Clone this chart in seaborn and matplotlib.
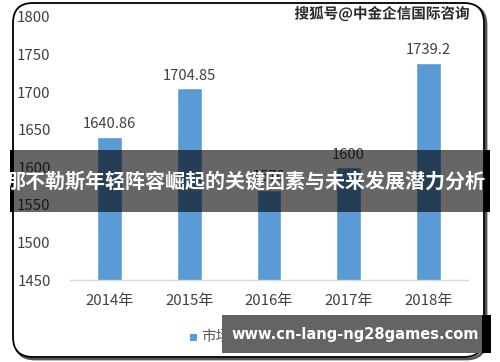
import matplotlib
matplotlib.use("Agg")
import matplotlib.pyplot as plt
import matplotlib.patheffects as pe
from matplotlib.patches import FancyBboxPatch, Rectangle
import seaborn as sns
import pandas as pd

years = ["2014年", "2015年", "2016年", "2017年", "2018年"]
values = [1640.86, 1704.85, 1570, 1600, 1739.2]
value_labels = ["1640.86", "1704.85", "1570", "1600", "1739.2"]
yticks = [1450, 1500, 1550, 1600, 1650, 1700, 1750, 1800]
legend_label = "市场规模（亿元）"
title_text = "那不勒斯年轻阵容崛起的关键因素与未来发展潜力分析"
watermark_top = "搜狐号@中金企信国际咨询"
watermark_bottom = "www.cn-lang-ng28games.com"

sns.set_theme(style="white")
plt.rcParams["font.family"] = ["Noto Sans CJK SC", "DejaVu Sans"]

W, H = 500, 362
fig = plt.figure(figsize=(W / 100, H / 100), dpi=100)
fig.patch.set_facecolor("white")

# rounded frame with shadow (inches coords)
shadow = FancyBboxPatch((0.15, 0.03), 4.71, 3.54,
                        boxstyle="round,pad=0,rounding_size=0.2",
                        transform=fig.dpi_scale_trans, facecolor="none",
                        edgecolor="#555555", linewidth=2.0, zorder=-3)
fig.patches.append(shadow)
frame = FancyBboxPatch((0.13, 0.05), 4.71, 3.54,
                       boxstyle="round,pad=0,rounding_size=0.2",
                       transform=fig.dpi_scale_trans, facecolor="white",
                       edgecolor="black", linewidth=1.3, zorder=-2)
fig.patches.append(frame)

ax = fig.add_axes([70 / W, (H - 280) / H, 398 / W, (280 - 17) / H])
ax.set_zorder(1)
ax.set_facecolor("none")
df = pd.DataFrame({"year": years, "value": values})
sns.barplot(data=df, x="year", y="value", color="#5B9BD5", width=0.31,
            saturation=1, ax=ax, zorder=2)
ax.set_ylim(1450, 1800)
ax.set_xlim(-0.5, 4.5)
ax.set_yticks(yticks)
ax.set_xlabel("")
ax.set_ylabel("")
for s in ["top", "right", "left"]:
    ax.spines[s].set_visible(False)
ax.spines["bottom"].set_color("#d9d9d9")
ax.spines["bottom"].set_linewidth(1.0)
ax.tick_params(axis="y", length=0, pad=14, labelsize=10.8, labelcolor="#404040")
ax.tick_params(axis="x", length=0, pad=10, labelsize=10.8, labelcolor="#404040")

for i, (v, lab) in enumerate(zip(values, value_labels)):
    ax.annotate(lab, (i, v), xytext=(0, 4), textcoords="offset points",
                ha="center", va="bottom", fontsize=10.6, color="#404040")

# legend
fig.patches.append(Rectangle((190 / W, (H - 341) / H), 7 / W, 7 / H,
                             transform=fig.transFigure, facecolor="#5B9BD5",
                             edgecolor="none", zorder=3))
fig.text(201 / W, (H - 337) / H, legend_label, fontsize=10.5, color="#595959",
         va="center", ha="left", zorder=3)

# top-right watermark
fig.text(470 / W, (H - 14) / H, watermark_top, fontsize=10.5, color="#2a2a2a",
         ha="right", va="center", fontweight="bold", zorder=5,
         path_effects=[pe.withStroke(linewidth=2, foreground="white")])

# middle title band
fig.patches.append(Rectangle((10 / W, (H - 212) / H), 480 / W, 62 / H,
                             transform=fig.transFigure, facecolor="black",
                             alpha=0.6, edgecolor="none", zorder=6))
fig.patches.append(Rectangle((10 / W, (H - 212) / H), 4 / W, 62 / H,
                             transform=fig.transFigure, facecolor="black",
                             edgecolor="none", zorder=6))
fig.patches.append(Rectangle((484 / W, (H - 212) / H), 6 / W, 62 / H,
                             transform=fig.transFigure, facecolor="black",
                             edgecolor="none", zorder=6))
fig.text(245 / W, (H - 181) / H, title_text, fontsize=14.4, color="white",
         fontweight="bold", ha="center", va="center", zorder=7)

# bottom watermark box
fig.patches.append(Rectangle((222 / W, (H - 353) / H), 260 / W, 38 / H,
                             transform=fig.transFigure, facecolor="#646464",
                             edgecolor="none", zorder=6))
fig.patches.append(Rectangle((482 / W, (H - 353) / H), 9 / W, 38 / H,
                             transform=fig.transFigure, facecolor="black",
                             edgecolor="none", zorder=6))
fig.text(355 / W, (H - 335) / H, watermark_bottom, fontsize=10.5, color="white",
         fontweight="bold", ha="center", va="center", zorder=7,
         family=["DejaVu Sans"])

fig.savefig("out.png", dpi=100, facecolor="white")
